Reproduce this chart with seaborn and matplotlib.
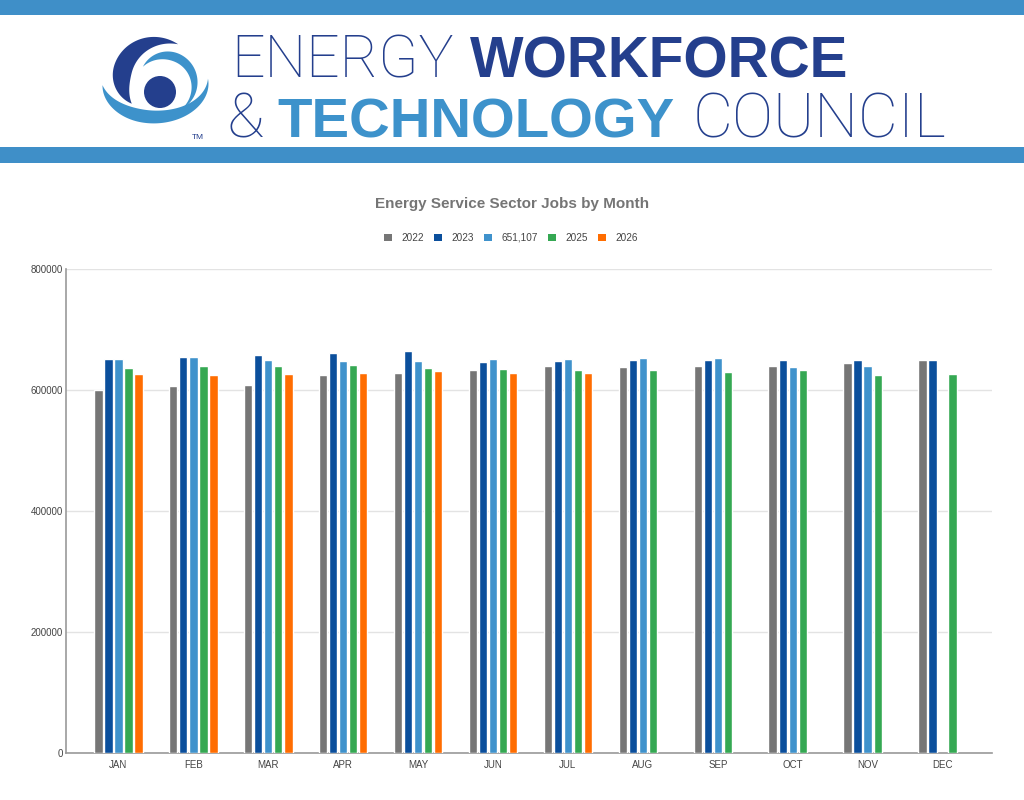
import numpy as np
import pandas as pd
import matplotlib
matplotlib.use("Agg")
import matplotlib.pyplot as plt
from matplotlib.patches import Rectangle, Polygon, Ellipse, Patch
import seaborn as sns

# ---------------- data ----------------
months = ["JAN", "FEB", "MAR", "APR", "MAY", "JUN", "JUL", "AUG", "SEP", "OCT", "NOV", "DEC"]
series_names = ["2022", "2023", "651,107", "2025", "2026"]
v2022 = [599300, 605900, 608700, 624100, 628500, 632300, 640100, 637300, 640100, 640100, 645100, 650000]
v2023 = [651700, 655000, 657800, 661100, 664400, 646200, 647900, 650000, 650000, 650000, 648900, 648900]
v2024 = [651107, 655000, 650000, 647200, 647900, 651700, 651700, 652800, 652800, 637300, 638900, np.nan]
v2025 = [636300, 639600, 639600, 640600, 636300, 634600, 632300, 632300, 629700, 632300, 624700, 625700]
v2026 = [626400, 625200, 626900, 628000, 630700, 628500, 627400, np.nan, np.nan, np.nan, np.nan, np.nan]
y_ticks = [0, 200000, 400000, 600000, 800000]
colors = ["#767676", "#0B4F9C", "#3F92CC", "#35A853", "#FF6D01"]

title = "Energy Service Sector Jobs by Month"

# ---------------- figure ----------------
sns.set_theme(style="white")
plt.rcParams["font.family"] = ["Liberation Sans", "DejaVu Sans"]

W, H = 1024, 800
fig = plt.figure(figsize=(W / 100, H / 100), dpi=100)
fig.patch.set_facecolor("white")

# overlay for header decorations (pixel coordinates)
ov = fig.add_axes([0, 0, 1, 1])
ov.set_xlim(0, W)
ov.set_ylim(H, 0)
ov.axis("off")
ov.patch.set_visible(False)

band = "#3F8FC8"
dark = "#243F8D"
light = "#3D92CB"
ov.add_patch(Rectangle((0, 0), W, 15, color=band, lw=0))
ov.add_patch(Rectangle((0, 147), W, 16, color=band, lw=0))


def crescent(cx, cy, rx0, ry0, rx1, ry1, t0, t1, wmax, peak, color):
    t = np.linspace(t0, t1, 240)
    u = (t - t0) / (t1 - t0)
    shape = np.where(u < peak, np.sin(np.pi / 2 * u / peak),
                     np.sin(np.pi / 2 * (1 - u) / (1 - peak)))
    w = wmax * np.clip(shape, 0, 1)
    rx = rx0 + (rx1 - rx0) * u
    ry = ry0 + (ry1 - ry0) * u
    tr = np.radians(t)
    ox = cx + (rx + w / 2) * np.cos(tr)
    oy = cy - (ry + w / 2) * np.sin(tr)
    ix = cx + (rx - w / 2) * np.cos(tr)
    iy = cy - (ry - w / 2) * np.sin(tr)
    pts = np.column_stack([np.r_[ox, ix[::-1]], np.r_[oy, iy[::-1]]])
    ov.add_patch(Polygon(pts, closed=True, color=color, lw=0))


# logo swirl
crescent(157, 84, 45, 45, 32, 32, 62, 218, 19, 0.6, dark)
crescent(155, 80, 53, 37, 53, 37, 188, 362, 13, 0.4, light)
crescent(165, 84, 28, 28, 30, 30, 142, -56, 9, 0.4, light)
ov.add_patch(Ellipse((160, 92), 32, 32, color=dark, lw=0))
ov.text(198, 139, "TM", fontsize=6, color=dark, ha="center", va="baseline")

# header words: (text, left x, baseline y, target width, color, family, weight)
words = [
    ("ENERGY", 231, 77, 222, dark, ["Roboto", "DejaVu Sans"], "light"),
    ("WORKFORCE", 470, 77, 378, dark, ["Liberation Sans", "DejaVu Sans"], "bold"),
    ("COUNCIL", 693, 138, 253, dark, ["Roboto", "DejaVu Sans"], "light"),
    ("TECHNOLOGY", 277, 138, 397, light, ["Liberation Sans", "DejaVu Sans"], "bold"),
]
renderer = fig.canvas.get_renderer()
sizes = {}
for txt, x, y, tw, col, fam, wt in words:
    t = ov.text(x, y, txt, fontsize=40, color=col, family=fam, fontweight=wt,
                ha="left", va="baseline")
    bb = t.get_window_extent(renderer)
    t.set_fontsize(40 * tw / bb.width)
    sizes[txt] = 40 * tw / bb.width
ov.text(227, 138, "&", fontsize=sizes["COUNCIL"], color=dark,
        family=["Roboto", "DejaVu Sans"], fontweight="light", ha="left", va="baseline")

# ---------------- chart ----------------
L, R, T, B = 66, 992, 269, 753
ax = fig.add_axes([L / W, 1 - B / H, (R - L) / W, (B - T) / H])

rows = []
for name, vals in zip(series_names, [v2022, v2023, v2024, v2025, v2026]):
    for m, v in zip(months, vals):
        if not np.isnan(v):
            rows.append({"month": m, "series": name, "jobs": v})
df = pd.DataFrame(rows)

sns.barplot(data=df, x="month", y="jobs", hue="series", order=months,
            hue_order=series_names, palette=colors, saturation=1, width=0.67, gap=0.17,
            errorbar=None, legend=False, ax=ax, zorder=3)

ax.set_ylim(0, 800000)
ax.set_xlim(-0.70, 11.66)
ax.set_yticks(y_ticks)
ax.set_yticklabels([str(v) for v in y_ticks])
ax.set_xlabel("")
ax.set_ylabel("")
ax.grid(axis="y", color="#E3E3E3", lw=1, zorder=0)
ax.grid(axis="x", visible=False)
ax.set_axisbelow(True)
for s in ["top", "right"]:
    ax.spines[s].set_visible(False)
ax.spines["left"].set_color("#999999")
ax.spines["bottom"].set_color("#999999")
ax.spines["left"].set_linewidth(1.2)
ax.spines["bottom"].set_linewidth(1.2)
ax.tick_params(axis="both", length=0, labelsize=7, labelcolor="#444444")
ax.tick_params(axis="y", pad=2)
ax.tick_params(axis="x", pad=5)

fig.text(512 / W, 1 - 204 / H, title, ha="center", va="center", fontsize=11,
         fontweight="bold", color="#757575")

handles = [Patch(facecolor=c, edgecolor="none", label=n) for c, n in zip(colors, series_names)]
fig.legend(handles=handles, loc="center", bbox_to_anchor=(511 / W, 1 - 238 / H), ncol=5,
           frameon=False, fontsize=7.2, handlelength=0.8, handleheight=0.8,
           handletextpad=0.9, columnspacing=1.05, labelcolor="#444444")

fig.savefig("out.png", dpi=100, facecolor="white")
